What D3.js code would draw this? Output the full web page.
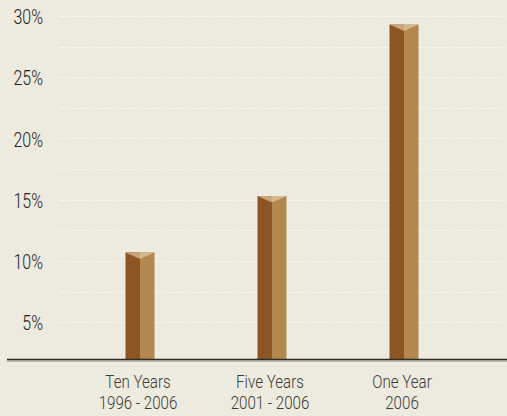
<!DOCTYPE html>
<html><head><meta charset="utf-8">
<script src="https://cdn.jsdelivr.net/npm/d3@7"></script>
<style>
html,body{margin:0;padding:0;background:#EDEADF;}
svg{display:block;}
text{font-family:Roboto,"Noto Sans",sans-serif;font-weight:300;}
</style></head>
<body>
<svg id="chart" width="507" height="416"></svg>
<script>
const categoriesLine1 = ["Ten Years", "Five Years", "One Year"];
const categoriesLine2 = ["1996 - 2006", "2001 - 2006", "2006"];
const values = [10.7, 15.3, 29.3];
const tickValues = [5, 10, 15, 20, 25, 30];
const tickLabels = ["5%", "10%", "15%", "20%", "25%", "30%"];
const gridValues = [5, 7.5, 10, 12.5, 15, 17.5, 20, 22.5, 25, 27.5, 30];

const svg = d3.select("#chart");
const W = 507, H = 416;
const y = d3.scaleLinear().domain([2, 30]).range([359, 16]);
const x = d3.scaleBand().domain(categoriesLine1).range([74, 470]);
const barW = 29;

// gridlines
svg.append("g").selectAll("line").data(gridValues).join("line")
  .attr("x1", 60).attr("x2", W)
  .attr("y1", d => Math.round(y(d)) + 0.5).attr("y2", d => Math.round(y(d)) + 0.5)
  .attr("stroke", "#FFFFFF").attr("stroke-width", 1.2)
  .attr("stroke-dasharray", "1.5,1.5").attr("opacity", 0.9);

// y axis labels
const yAxis = d3.axisLeft(y).tickValues(tickValues)
  .tickFormat((d, i) => tickLabels[i]).tickSize(0).tickPadding(0);
const gy = svg.append("g").attr("transform", "translate(43,0)").call(yAxis);
gy.select(".domain").remove();
gy.selectAll("text").attr("font-size", 21).attr("fill", "#232220")
  .attr("font-family", "Roboto, sans-serif").attr("font-weight", 400)
  .attr("dy", "0.36em").attr("transform", "scale(0.76,1)");

// bars
const bars = svg.append("g").selectAll("g").data(values).join("g")
  .attr("transform", (d, i) => `translate(${x(categoriesLine1[i]) + x.bandwidth() / 2},0)`);
bars.append("rect")
  .attr("x", -barW / 2).attr("width", barW / 2)
  .attr("y", d => y(d)).attr("height", d => y(2) - y(d))
  .attr("fill", "#8E5524");
bars.append("rect")
  .attr("x", 0).attr("width", barW / 2)
  .attr("y", d => y(d)).attr("height", d => y(2) - y(d))
  .attr("fill", "#B2884F");
// caps
bars.append("path")
  .attr("d", d => `M${-barW/2},${y(d)} L0,${y(d)} L0,${y(d)+6.5} Z`)
  .attr("fill", "#C9A67A");
bars.append("path")
  .attr("d", d => `M0,${y(d)} L${barW/2},${y(d)} L0,${y(d)+6.5} Z`)
  .attr("fill", "#D4B88F");

// baseline
svg.append("line").attr("x1", 7).attr("x2", W).attr("y1", 359.5).attr("y2", 359.5)
  .attr("stroke", "#2E2C28").attr("stroke-width", 1.6);
svg.append("line").attr("x1", 7).attr("x2", W).attr("y1", 361).attr("y2", 361)
  .attr("stroke", "#8A877F").attr("stroke-width", 1);

// x axis labels
const xg = svg.append("g").selectAll("g").data(categoriesLine1).join("g")
  .attr("transform", d => `translate(${x(d) + x.bandwidth() / 2 - 2},0) scale(0.84,1)`);
const xl = xg.append("text")
  .attr("text-anchor", "middle")
  .attr("font-size", 18).attr("fill", "#3C3B38");
xl.append("tspan").attr("x", 0).attr("y", 388).text(d => d);
xl.append("tspan").attr("x", 0).attr("y", 409)
  .text((d, i) => categoriesLine2[i]);
</script>
</body></html>
